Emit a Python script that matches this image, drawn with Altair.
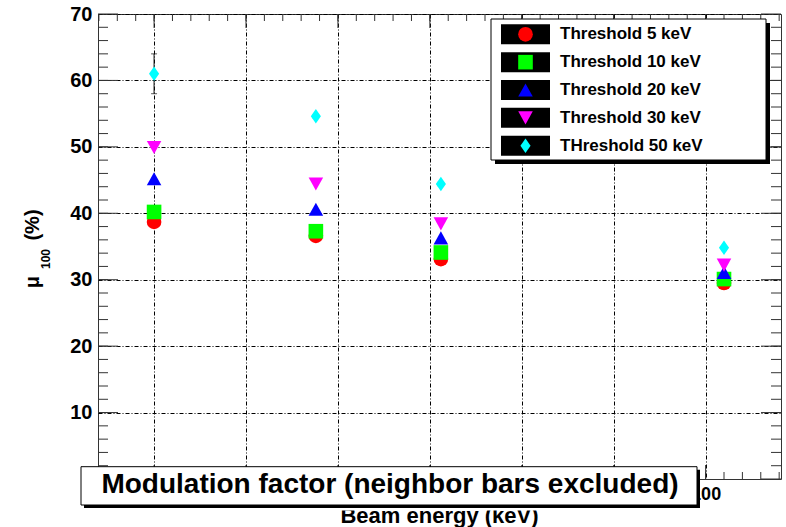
import altair as alt
import pandas as pd

FONT = "Liberation Sans"

# Beam energies (keV) and modulation factor mu_100 (%) per energy threshold
energy = [40.0, 57.6, 71.2, 102.0]
mu_5 = [38.7, 36.6, 33.1, 29.5]
mu_10 = [40.2, 37.3, 34.1, 30.1]
mu_20 = [45.2, 40.6, 36.3, 31.1]
mu_30 = [49.9, 44.4, 38.4, 32.2]
mu_50 = [61.0, 54.6, 44.4, 34.8]
err_50 = [3.0, 0.3, 0.3, 0.3]

series_labels = [
    "Threshold 5 keV",
    "Threshold 10 keV",
    "Threshold 20 keV",
    "Threshold 30 keV",
    "THreshold 50 keV",
]
series_values = [mu_5, mu_10, mu_20, mu_30, mu_50]

x_major = [40, 50, 60, 70, 80, 90, 100]
x_minor = list(range(34, 109, 2))
y_major = [10, 20, 30, 40, 50, 60, 70]
y_minor = list(range(2, 70, 2))

# marker styling
colors = ["#ff0000", "#00ff00", "#0000ff", "#ff00ff", "#00ffff"]
TRI_UP = "M0,-0.9L1,0.9L-1,0.9Z"
TRI_DOWN = "M0,0.9L1,-0.9L-1,-0.9Z"
DIAMOND = "M0,-1L0.7,0L0,1L-0.7,0Z"
shapes = ["circle", "square", TRI_UP, TRI_DOWN, DIAMOND]
sizes = [215, 210, 225, 225, 190]

W, H = 683, 465

rows = []
for lab, vals in zip(series_labels, series_values):
    for e, v in zip(energy, vals):
        rows.append({"energy": e, "mu": v, "series": lab})
points_df = pd.DataFrame(rows)

err_df = pd.DataFrame({
    "energy": energy,
    "lo": [m - e for m, e in zip(mu_50, err_50)],
    "hi": [m + e for m, e in zip(mu_50, err_50)],
})

xscale = alt.Scale(domain=[33.9, 108.2], nice=False, zero=False)
yscale = alt.Scale(domain=[0, 70], nice=False, zero=False)

GRID = dict(grid=True, gridColor="black", gridDash=[4, 2, 1, 2], gridWidth=1, gridOpacity=1,
            ticks=False, domain=False, labelFlush=False, labelOverlap=False,
            labelFont=FONT, labelFontWeight="bold", labelColor="black", format="d")
x_axis = alt.Axis(values=x_major, labelFontSize=18, labelPadding=6, **GRID)
y_axis = alt.Axis(values=y_major, labelFontSize=20, labelPadding=6, **GRID)


def X(field):
    return alt.X(field, scale=xscale, axis=x_axis, title=None)


def Y(field):
    return alt.Y(field, scale=yscale, axis=y_axis, title=None)


color_enc = alt.Color("series:N", scale=alt.Scale(domain=series_labels, range=colors), legend=None)
shape_enc = alt.Shape("series:N", scale=alt.Scale(domain=series_labels, range=shapes), legend=None)
size_enc = alt.Size("series:N", scale=alt.Scale(domain=series_labels, range=sizes), legend=None)

one = pd.DataFrame({"k": [0]})
FRAME = "#333333"

layers = []

# inward-pointing axis ticks on all four sides
def yticks(values, length, side):
    x0 = 0 if side == "left" else W
    x1 = length if side == "left" else W - length
    return alt.Chart(pd.DataFrame({"v": values})).mark_rule(color=FRAME, strokeWidth=1).encode(
        y=Y("v:Q"), x=alt.value(x0), x2=alt.value(x1))

def xticks(values, length, side):
    y0 = 0 if side == "top" else H
    y1 = length if side == "top" else H - length
    return alt.Chart(pd.DataFrame({"v": values})).mark_rule(color=FRAME, strokeWidth=1).encode(
        x=X("v:Q"), y=alt.value(y0), y2=alt.value(y1))

for side in ("left", "right"):
    layers.append(yticks(y_minor, 10, side))
    layers.append(yticks([0] + y_major, 20, side))
for side in ("top", "bottom"):
    layers.append(xticks(x_minor, 7, side))
    layers.append(xticks(x_major, 14, side))

# error bars
layers.append(alt.Chart(err_df).mark_rule(color="#111111", strokeWidth=1).encode(
    x=X("energy:Q"), y=Y("lo:Q"), y2="hi:Q"))
for end in ("lo", "hi"):
    layers.append(alt.Chart(err_df).mark_tick(color="#111111", thickness=1, size=6, orient="horizontal").encode(
        x=X("energy:Q"), y=Y(f"{end}:Q")))

# data points
layers.append(alt.Chart(points_df).mark_point(filled=True, opacity=1, strokeWidth=0).encode(
    x=X("energy:Q"), y=Y("mu:Q"),
    color=color_enc, shape=shape_enc, size=size_enc,
))

# axis titles
layers.append(alt.Chart(pd.DataFrame({"t": ["Beam energy (keV)"]})).mark_text(
    font=FONT, fontSize=22, fontWeight="bold", color="black", align="center", baseline="alphabetic"
).encode(x=alt.value(341.5), y=alt.value(508.7), text="t:N"))

ytitle = [("μ", 20, -59, 268), ("100", 12, -48, 245), ("(%)", 20, -59, 211)]
for txt, fs, px, py in ytitle:
    layers.append(alt.Chart(pd.DataFrame({"t": [txt]})).mark_text(
        font=FONT, fontSize=fs, fontWeight="bold", color="black", angle=270,
        align="center", baseline="alphabetic"
    ).encode(x=alt.value(px), y=alt.value(py), text="t:N"))

# title box with drop shadow
layers.append(alt.Chart(one).mark_rect(color="white").encode(
    x=alt.value(237), x2=alt.value(447), y=alt.value(491), y2=alt.value(496.5)))
layers.append(alt.Chart(one).mark_rect(color="black").encode(
    x=alt.value(-14), x2=alt.value(602), y=alt.value(455.7), y2=alt.value(494)))
layers.append(alt.Chart(one).mark_rect(fill="white", stroke="black", strokeWidth=1).encode(
    x=alt.value(-17), x2=alt.value(599), y=alt.value(452.7), y2=alt.value(491)))
layers.append(alt.Chart(pd.DataFrame({"t": ["Modulation factor (neighbor bars excluded)"]})).mark_text(
    font=FONT, fontSize=28, fontWeight="bold", color="black", align="center", baseline="alphabetic"
).encode(x=alt.value(292), y=alt.value(479), text="t:N"))

# legend box with drop shadow
layers.append(alt.Chart(one).mark_rect(color="black").encode(
    x=alt.value(397), x2=alt.value(672), y=alt.value(9), y2=alt.value(150)))
layers.append(alt.Chart(one).mark_rect(fill="white", stroke="black", strokeWidth=1).encode(
    x=alt.value(393), x2=alt.value(668), y=alt.value(5), y2=alt.value(146)))

legend_df = pd.DataFrame({"series": series_labels, "row": list(range(len(series_labels)))})
legend_base = alt.Chart(legend_df).transform_calculate(
    ly="20.3 + 27.85 * datum.row", ly0="10.3 + 27.85 * datum.row", ly1="30.3 + 27.85 * datum.row")
layers.append(legend_base.mark_rect(color="black").encode(
    x=alt.value(403), x2=alt.value(452),
    y=alt.Y("ly0:Q", scale=None, axis=None), y2="ly1:Q"))
layers.append(legend_base.mark_point(filled=True, opacity=1, strokeWidth=0).encode(
    x=alt.value(427.5), y=alt.Y("ly:Q", scale=None, axis=None),
    color=color_enc, shape=shape_enc, size=size_enc))
layers.append(legend_base.mark_text(
    font=FONT, fontSize=17, fontWeight="bold", color="black", align="left", baseline="middle"
).encode(x=alt.value(462), y=alt.Y("ly:Q", scale=None, axis=None), text="series:N"))

chart = alt.layer(*layers).properties(
    width=W, height=H,
    autosize=alt.AutoSizeParams(type="none"),
    padding={"left": 98, "top": 14, "right": 5, "bottom": 48},
    background="white",
).configure_view(stroke=FRAME, strokeWidth=1)

chart.save("out.html", embed_options={"renderer": "svg", "actions": False})
